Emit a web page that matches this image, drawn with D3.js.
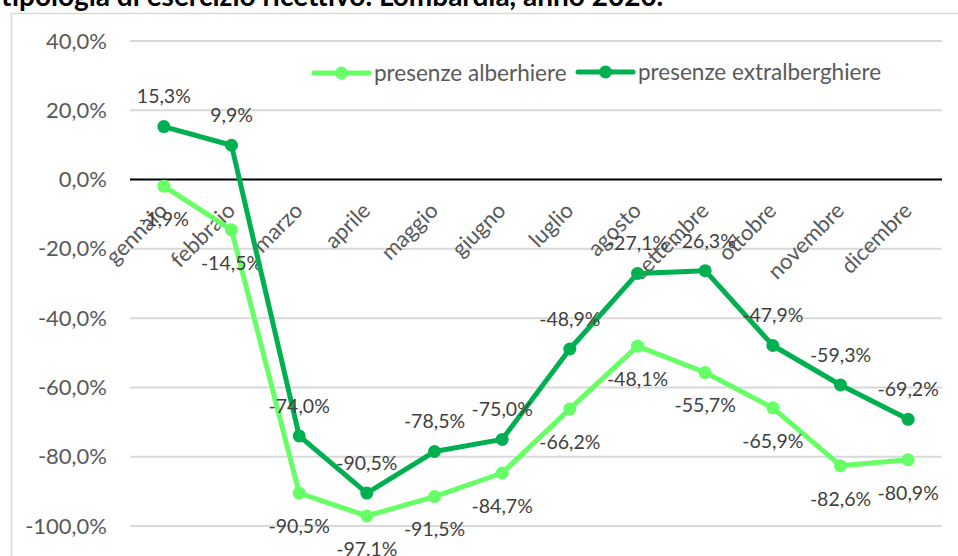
<!DOCTYPE html>
<html>
<head>
<meta charset="utf-8">
<script src="https://cdn.jsdelivr.net/npm/d3@7"></script>
<style>
  body { margin: 0; background: #fff; }
  svg { display: block; font-family: Lato, "Liberation Sans", sans-serif; }
</style>
</head>
<body>
<div id="chart"></div>
<script>
const mesi = ["gennaio", "febbraio", "marzo", "aprile", "maggio", "giugno", "luglio", "agosto", "settembre", "ottobre", "novembre", "dicembre"];
const alberghiere = [-1.9, -14.5, -90.5, -97.1, -91.5, -84.7, -66.2, -48.1, -55.7, -65.9, -82.6, -80.9];
const extralberghiere = [15.3, 9.9, -74.0, -90.5, -78.5, -75.0, -48.9, -27.1, -26.3, -47.9, -59.3, -69.2];
const yTicks = [40, 20, 0, -20, -40, -60, -80, -100];

const width = 958, height = 556;
const margin = {top: 41, right: 16, bottom: 30, left: 130};

const svg = d3.select("#chart").append("svg")
    .attr("width", width)
    .attr("height", height);

// italian number format: comma decimal, plain hyphen minus
const it = d3.formatLocale({decimal: ",", thousands: ".", grouping: [3], currency: ["", "€"], minus: "-"});
const fmt = v => it.format(".1f")(v) + "%";

// title (cut off at the top in the original)
svg.append("text")
    .attr("x", 1)
    .attr("y", 6)
    .attr("font-size", 28)
    .attr("font-weight", "bold")
    .attr("fill", "#000")
    .text("tipologia di esercizio ricettivo. Lombardia, anno 2020.");

// chart frame
svg.append("rect")
    .attr("x", 11.5)
    .attr("y", 13.5)
    .attr("width", 960)
    .attr("height", 560)
    .attr("fill", "#fff")
    .attr("stroke", "#d9d9d9")
    .attr("stroke-width", 1.5);

const x = d3.scaleBand().domain(mesi).range([margin.left, width - margin.right]);
const y = d3.scaleLinear().domain([-100, 40]).range([526, margin.top]);
const cx = d => x(d) + x.bandwidth() / 2;

// grid
svg.append("g").selectAll("line")
    .data(yTicks.filter(d => d !== 0))
    .enter().append("line")
    .attr("x1", margin.left)
    .attr("x2", width - margin.right)
    .attr("y1", d => y(d))
    .attr("y2", d => y(d))
    .attr("stroke", "#d9d9d9")
    .attr("stroke-width", 2);

// y axis labels
const yAxis = svg.append("g")
    .attr("transform", `translate(${margin.left},0)`)
    .call(d3.axisLeft(y).tickValues(yTicks).tickSize(0).tickPadding(23).tickFormat(fmt));
yAxis.select(".domain").remove();
yAxis.selectAll("text")
    .attr("font-family", "Lato, 'Liberation Sans', sans-serif")
    .attr("font-size", 22)
    .attr("fill", "#595959");

// zero line
svg.append("line")
    .attr("x1", margin.left)
    .attr("x2", width - margin.right)
    .attr("y1", y(0))
    .attr("y2", y(0))
    .attr("stroke", "#000")
    .attr("stroke-width", 2);

// category labels, rotated
svg.append("g").selectAll("text")
    .data(mesi)
    .enter().append("text")
    .attr("transform", d => `translate(${cx(d) + 5},212) rotate(-45)`)
    .attr("text-anchor", "end")
    .attr("font-size", 22)
    .attr("fill", "#595959")
    .text(d => d);

const series = [
    {name: "presenze alberhiere", values: alberghiere, color: "#66FF66", dy: 33},
    {name: "presenze extralberghiere", values: extralberghiere, color: "#00B050", dy: -30}
];

const line = d3.line()
    .x((d, i) => cx(mesi[i]))
    .y(d => y(d));

series.forEach(s => {
    const g = svg.append("g");
    g.append("path")
        .datum(s.values)
        .attr("d", line)
        .attr("fill", "none")
        .attr("stroke", s.color)
        .attr("stroke-width", 5)
        .attr("stroke-linejoin", "round");
    g.selectAll("circle")
        .data(s.values)
        .enter().append("circle")
        .attr("cx", (d, i) => cx(mesi[i]))
        .attr("cy", d => y(d))
        .attr("r", 6.5)
        .attr("fill", s.color);
    g.selectAll(".value")
        .data(s.values)
        .enter().append("text")
        .attr("class", "value")
        .attr("x", (d, i) => cx(mesi[i]))
        .attr("y", d => y(d) + s.dy)
        .attr("dy", "0.35em")
        .attr("text-anchor", "middle")
        .attr("font-size", 19.5)
        .attr("fill", "#404040")
        .text(d => fmt(d));
});

// legend
const legendItems = [
    {x: 314, y: 73, s: series[0]},
    {x: 578, y: 72, s: series[1]}
];
const legend = svg.append("g");
legendItems.forEach(item => {
    const g = legend.append("g").attr("transform", `translate(${item.x},${item.y})`);
    g.append("line")
        .attr("x1", 0).attr("x2", 55)
        .attr("stroke", item.s.color)
        .attr("stroke-width", 5)
        .attr("stroke-linecap", "round");
    g.append("circle")
        .attr("cx", 27.5)
        .attr("r", 6.5)
        .attr("fill", item.s.color);
    g.append("text")
        .attr("x", 60)
        .attr("dy", "0.35em")
        .attr("font-size", 22.5)
        .attr("fill", "#595959")
        .text(item.s.name);
});
</script>
</body>
</html>
